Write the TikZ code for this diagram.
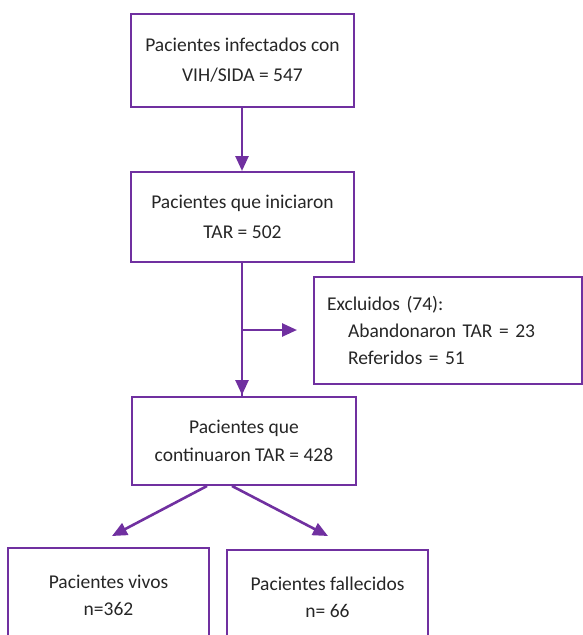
\documentclass[tikz,border=0pt]{standalone}
\usepackage{fontspec}
\setmainfont{Carlito}
\usetikzlibrary{calc,arrows.meta}
\definecolor{flowpurple}{HTML}{7030A0}
\tikzset{
	box/.style={draw=flowpurple, line width=2pt, text=black!85, align=center, inner sep=0pt},
	arrow/.style={draw=flowpurple, line width=2.6pt, -{Triangle[length=15pt,width=13pt]}}
}

\begin{document}
\begin{tikzpicture}[x=1pt, y=-1pt, font=\fontsize{19.5}{30}\selectfont]
		%%%%% START %%%%%
		\useasboundingbox (0, 0) rectangle (583, 635);
		\clip (0, 0) rectangle (583, 635);
		
		\node[box, minimum width=223, minimum height=93] (infect) at (242.5, 60.5)
			{Pacientes infectados con\\VIH/SIDA = 547};
		\node[box, minimum width=223, minimum height=90] (inicio) at (242.5, 217)
			{Pacientes que iniciaron\\TAR = 502};
		\node[box, minimum width=268, minimum height=107, text width=242, inner xsep=13, align=left,
			font=\fontsize{19.5}{27}\selectfont] (excl) at (448, 330)
			{Excluidos (74):\\\hspace*{21pt}Abandonaron TAR = 23\\\hspace*{21pt}Referidos = 51};
		\node[box, minimum width=224, minimum height=88, font=\fontsize{19.5}{28}\selectfont] (cont) at (244, 441)
			{Pacientes que\\continuaron TAR = 428};
		
		\node[box, minimum width=201, minimum height=94, font=\fontsize{19.5}{27}\selectfont] (vivos) at (108.5, 595)
			{Pacientes vivos\\n=362};
		\node[box, minimum width=201, minimum height=94, font=\fontsize{19.5}{27}\selectfont] (fallec) at (327.5, 597)
			{Pacientes fallecidos\\n= 66};
		
		% connectors
		\draw[arrow] (infect.south -| 242, 0) -- (inicio.north -| 242, 0);
		\coordinate (rama) at (242, 330);
		\draw[draw=flowpurple, line width=2.6pt] (inicio.south -| rama) -- (cont.north -| rama);
		\draw[arrow] (inicio.south -| rama) -- ($(cont.north -| rama)+(0, -1)$);
		\draw[arrow] (rama) -- ($(excl.west)+(-16, 0)$);
		
		\draw[arrow] ($(cont.south)+(-37, 0)$) -- ($(vivos.north)+(3.5, -11)$);
		\draw[arrow] ($(cont.south)+(-12, 0)$) -- ($(fallec.north)+(0.5, -13)$);
		
		%%%%% END %%%%%
	\end{tikzpicture}
\end{document}
